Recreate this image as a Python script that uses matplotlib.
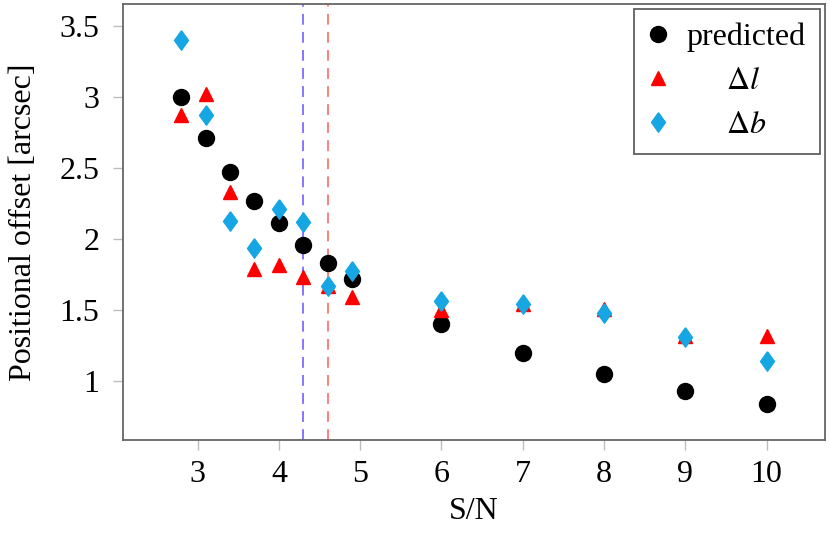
import matplotlib
matplotlib.use('Agg')
import matplotlib.pyplot as plt

# S/N bins
sn = [2.8, 3.1, 3.4, 3.7, 4.0, 4.3, 4.6, 4.9, 6, 7, 8, 9, 10]

# offsets in arcsec
predicted = [3.00, 2.71, 2.47, 2.27, 2.11, 1.96, 1.83, 1.72, 1.40, 1.20, 1.05, 0.93, 0.84]
delta_l = [2.87, 3.02, 2.33, 1.79, 1.82, 1.73, 1.67, 1.59, 1.50, 1.54, 1.51, 1.32, 1.32]
delta_b = [3.40, 2.87, 2.13, 1.94, 2.21, 2.12, 1.67, 1.775, 1.56, 1.54, 1.48, 1.31, 1.14]

# vertical reference lines
sn_cut_b = 4.3
sn_cut_l = 4.6

plt.rcParams['font.family'] = ['Liberation Serif', 'DejaVu Serif']
plt.rcParams['mathtext.fontset'] = 'stix'
fs = 23

# diamond a bit wider than matplotlib's thin_diamond
diamond = [(0, 1), (0.72, 0), (0, -1), (-0.72, 0), (0, 1)]

fig = plt.figure(figsize=(8.3, 5.42), dpi=100)
ax = fig.add_axes([0.148, 0.188, 0.846, 0.805])

ax.axvline(sn_cut_b, color='#7b6cff', lw=1.3, dashes=(6, 4), zorder=1)
ax.axvline(sn_cut_l, color='#ff7575', lw=1.3, dashes=(6, 4), zorder=1)

ax.plot(sn, predicted, 'o', color='black', ms=11.5, ls='none', zorder=3,
        label='predicted')
ax.plot(sn, delta_l, '^', color='red', ms=9.5, ls='none', zorder=4,
        label=r'$\quad\;\;\,\Delta l$')
ax.plot(sn, delta_b, marker=diamond, color='#15a6e3', ms=14, ls='none',
        zorder=5, label=r'$\quad\;\;\,\Delta b$')

ax.set_xlim(2.08, 10.72)
ax.set_ylim(0.584, 3.656)
ax.set_xticks([3, 4, 5, 6, 7, 8, 9, 10])
ax.set_xticklabels(['3', '4', '5', '6', '7', '8', '9', '10'])
ax.set_yticks([1, 1.5, 2, 2.5, 3, 3.5])
ax.set_yticklabels(['1', '1.5', '2', '2.5', '3', '3.5'])

for s in ax.spines.values():
    s.set_color('#666666')
    s.set_linewidth(1.3)
ax.tick_params(direction='out', length=7, width=1, color='#bdbdbd',
               labelsize=fs, pad=7, top=False, right=False)
ax.tick_params(axis='y', pad=10)

ax.set_xlabel('S/N', fontsize=fs, labelpad=6)
ax.set_ylabel('Positional offset [arcsec]', fontsize=fs, labelpad=15)

leg = ax.legend(loc='upper right', fontsize=fs, frameon=True, fancybox=False,
                borderaxespad=0.15, handlelength=0.6, handletextpad=0.6,
                labelspacing=0.45, borderpad=0.45, framealpha=1)
leg.get_frame().set_edgecolor('#606060')
leg.get_frame().set_linewidth(1.3)

plt.savefig('out.png', dpi=100)
